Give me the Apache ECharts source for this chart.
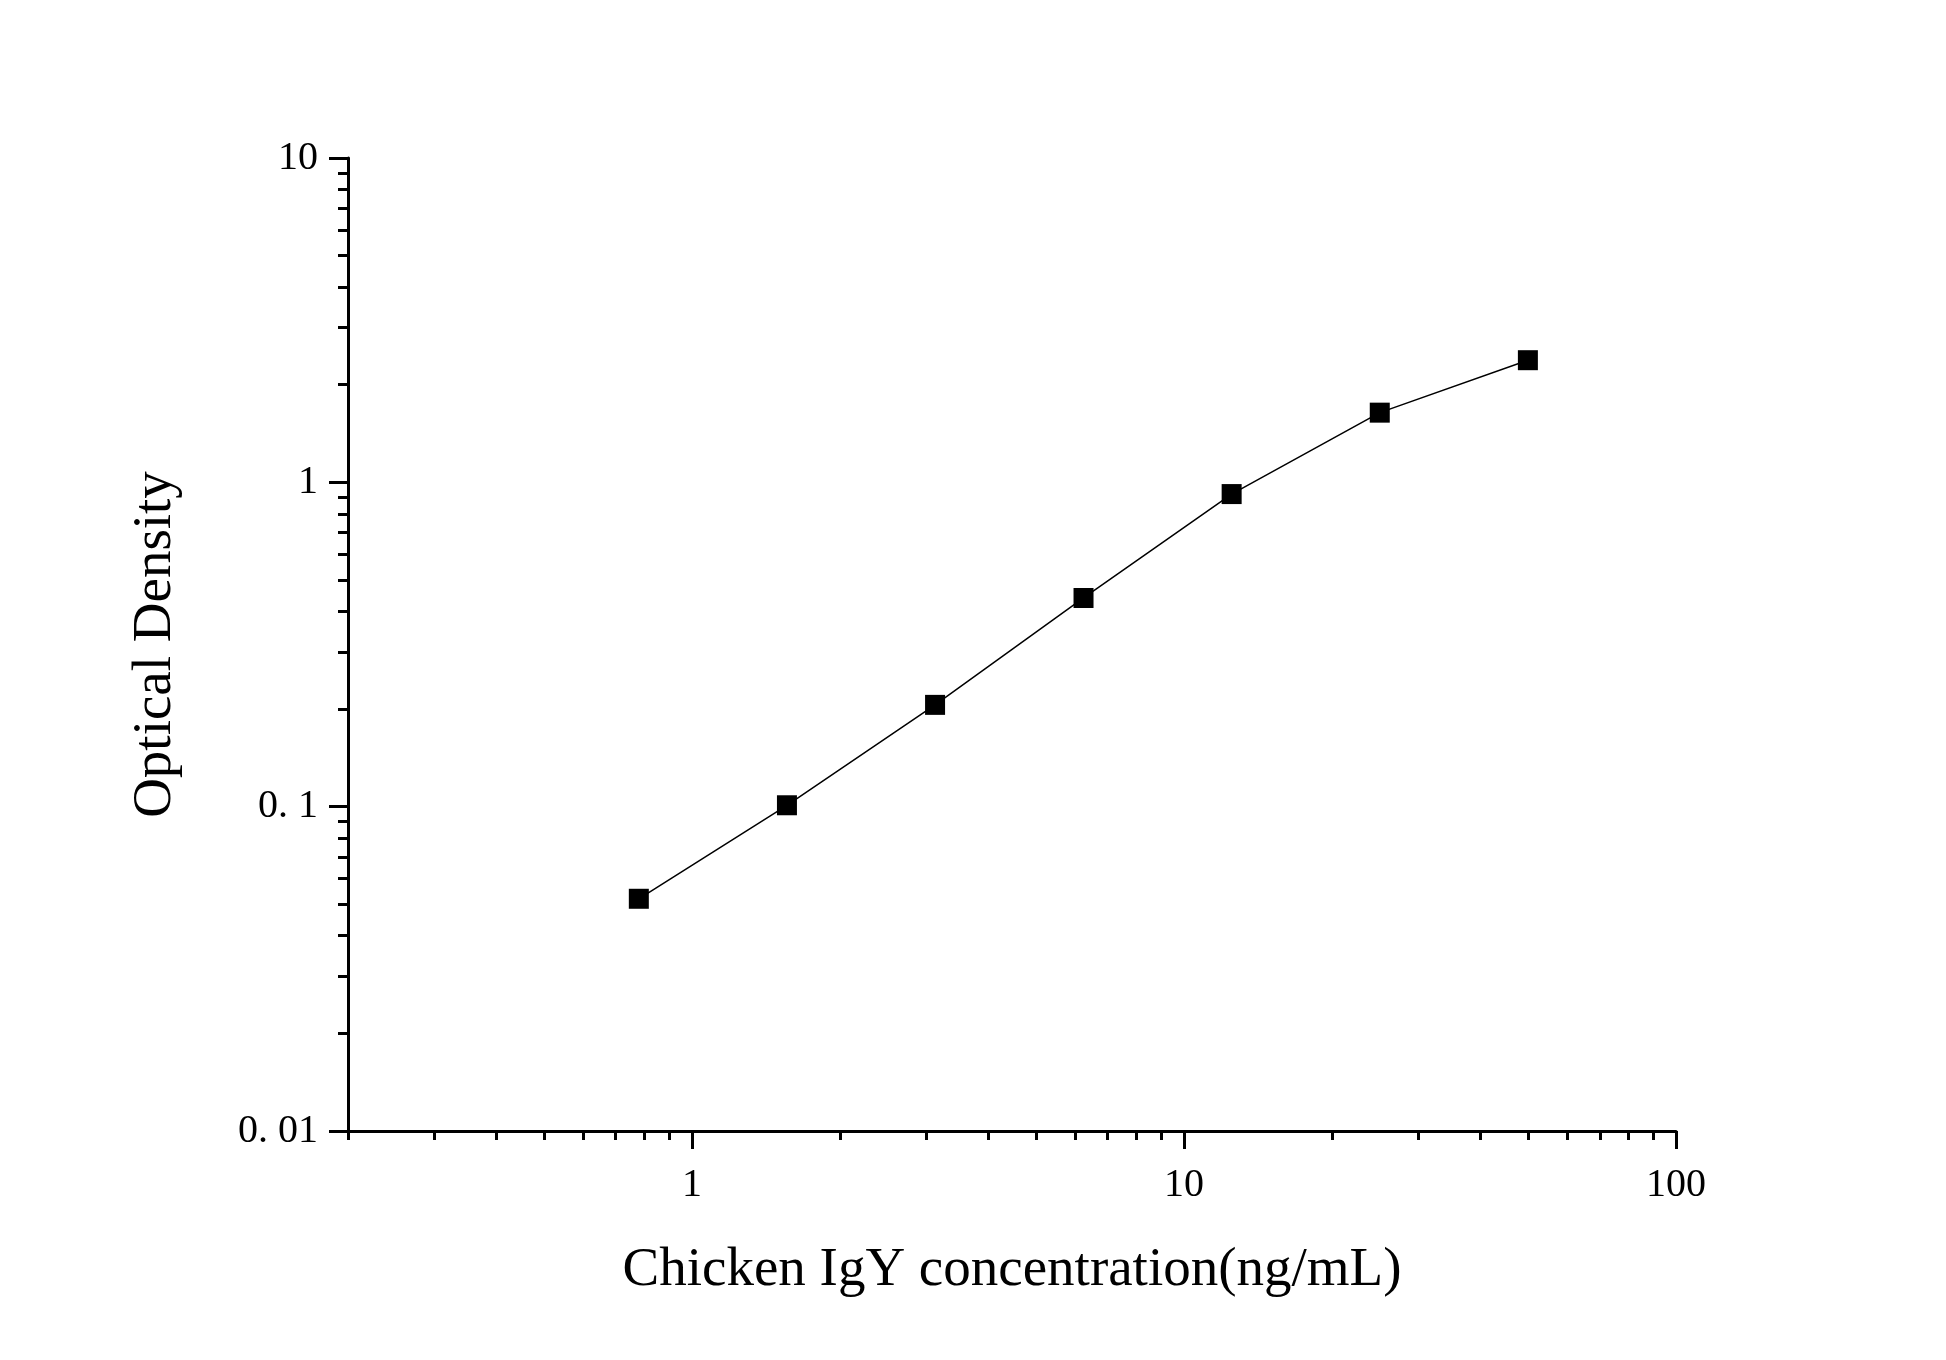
<!DOCTYPE html>
<html>
<head>
<meta charset="utf-8">
<title>Chicken IgY standard curve</title>
<script src="https://cdn.jsdelivr.net/npm/echarts@6/dist/echarts.min.js"></script>
<style>
  html, body { margin: 0; background: #fff; }
  #main { width: 1946px; height: 1360px; }
</style>
</head>
<body>
<div id="main"></div>
<script>
"use strict"

// standard curve
const concentration = [0.78, 1.56, 3.12, 6.25, 12.5, 25, 50];
const opticalDensity = [0.052, 0.101, 0.206, 0.44, 0.92, 1.64, 2.38];

// axis ticks
const xMajorTicks = [1, 10, 100];
const xMinorTicks = [0.2, 0.3, 0.4, 0.5, 0.6, 0.7, 0.8, 0.9,
    2, 3, 4, 5, 6, 7, 8, 9,
    20, 30, 40, 50, 60, 70, 80, 90];
const yMajorTicks = [0.01, 0.1, 1, 10];
const yTickLabels = ['0. 01', '0. 1', '1', '10'];
const yMinorTicks = [0.02, 0.03, 0.04, 0.05, 0.06, 0.07, 0.08, 0.09,
    0.2, 0.3, 0.4, 0.5, 0.6, 0.7, 0.8, 0.9,
    2, 3, 4, 5, 6, 7, 8, 9];

const FONT = '"Liberation Serif", "Times New Roman", serif';

const chart = echarts.init(document.getElementById('main'), null, {renderer: 'canvas'});

function axisBase(min, max) {
    return {
        type: 'log',
        logBase: 10,
        min: min,
        max: max,
        splitLine: {show: false},
        minorTick: {show: false},
        minorSplitLine: {show: false},
    };
}

const points = concentration.map(function (c, i) {
    return [c, opticalDensity[i]];
});

const option = {
    backgroundColor: '#ffffff',
    animation: false,
    grid: {
        left: 348,
        right: 270,
        top: 158,
        bottom: 229,
        containLabel: false,
    },
    xAxis: [
        Object.assign(axisBase(0.2, 100), {
            position: 'bottom',
            name: 'Chicken IgY concentration(ng/mL)',
            nameLocation: 'middle',
            nameGap: 112,
            nameTextStyle: {fontFamily: FONT, fontSize: 55, color: '#000'},
            axisLine: {show: true, lineStyle: {color: '#000', width: 3}},
            axisTick: {show: true, length: 18, lineStyle: {color: '#000', width: 3},
                customValues: xMajorTicks},
            axisLabel: {show: true, margin: 34, fontFamily: FONT, fontSize: 40, color: '#000',
                customValues: xMajorTicks,
                formatter: function (v) { return String(v); }},
        }),
        Object.assign(axisBase(0.2, 100), {
            position: 'bottom',
            axisLine: {show: false},
            axisTick: {show: true, length: 9, lineStyle: {color: '#000', width: 3},
                customValues: xMinorTicks},
            axisLabel: {show: false},
        }),
    ],
    yAxis: [
        Object.assign(axisBase(0.01, 10), {
            position: 'left',
            name: 'Optical Density',
            nameLocation: 'middle',
            nameRotate: 90,
            nameGap: 165,
            nameTextStyle: {fontFamily: FONT, fontSize: 55, color: '#000'},
            axisLine: {show: true, lineStyle: {color: '#000', width: 3}},
            axisTick: {show: true, length: 19, lineStyle: {color: '#000', width: 3},
                customValues: yMajorTicks},
            axisLabel: {show: true, margin: 30, fontFamily: FONT, fontSize: 40, color: '#000',
                customValues: yMajorTicks,
                formatter: function (v) {
                    const k = yMajorTicks.indexOf(Number(v));
                    return k >= 0 ? yTickLabels[k] : String(v);
                }},
        }),
        Object.assign(axisBase(0.01, 10), {
            position: 'left',
            axisLine: {show: false},
            axisTick: {show: true, length: 10, lineStyle: {color: '#000', width: 3},
                customValues: yMinorTicks},
            axisLabel: {show: false},
        }),
    ],
    series: [{
        name: 'OD',
        type: 'line',
        xAxisIndex: 0,
        yAxisIndex: 0,
        data: points,
        symbol: 'rect',
        symbolSize: 20,
        smooth: false,
        lineStyle: {color: '#000', width: 1.5},
        itemStyle: {color: '#000'},
        z: 3,
    }],
};

chart.setOption(option);
console.log('chart ready');
</script>
</body>
</html>
